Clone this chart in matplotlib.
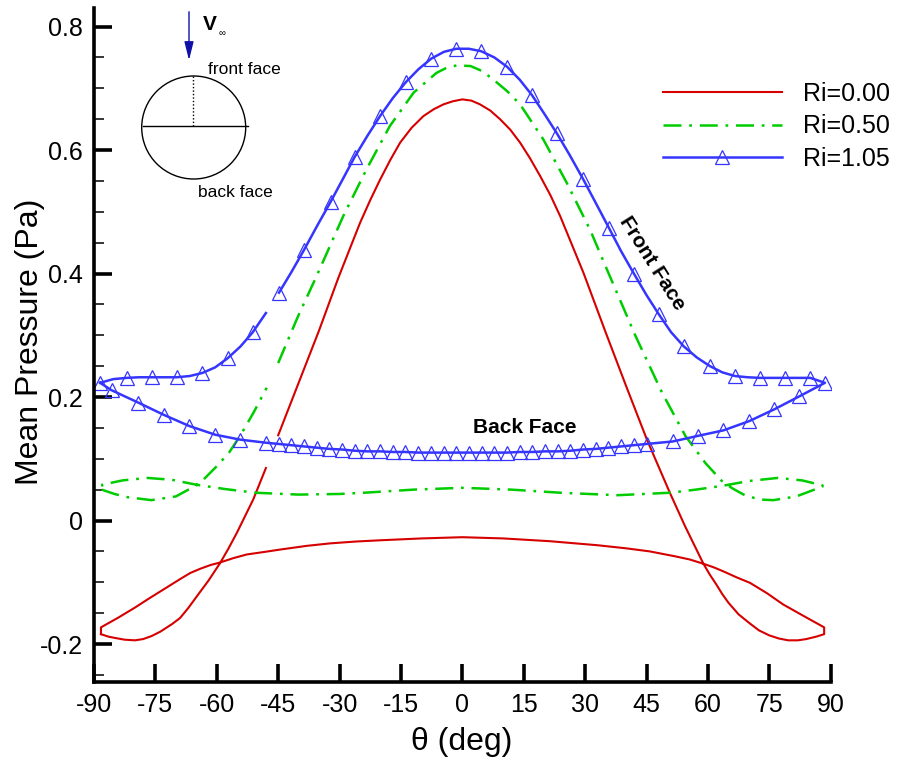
import numpy as np
import matplotlib.pyplot as plt
from matplotlib.lines import Line2D
from matplotlib.patches import Ellipse

plt.rcParams['font.family'] = ['Liberation Sans', 'DejaVu Sans']
plt.rcParams['axes.unicode_minus'] = False

# Ri = 0.00
red_front_theta = [-88.3, -86.5, -85.0, -82.5, -80.0, -78.0, -75.9, -73.8, -71.0, -69.0, -67.0, -64.9,
                   -62.0, -59.2, -57.2, -55.1, -51.1, -48.0, -45.0, -40.0, -35.0, -30.3, -25.0,
                   -22.5, -20.1, -17.6, -15.2, -12.4, -9.5, -7.0, -4.6, -2.3, 0.0, 2.2, 4.3, 6.8,
                   9.2, 11.7, 14.1, 16.5, 19.0, 21.5, 23.9, 29.6, 35.0, 40.0, 45.1, 50.7, 54.4, 58.9,
                   60.5, 62.0, 63.5, 65.0, 67.5, 70.3, 72.5, 75.0, 77.3, 79.6, 82.0, 84.0, 86.5, 88.4]
red_front_p = [-0.184, -0.188, -0.190, -0.193, -0.194, -0.192, -0.187, -0.180, -0.168, -0.158,
               -0.142, -0.123, -0.097, -0.069, -0.046, -0.020, 0.034, 0.085, 0.138, 0.223, 0.308,
               0.393, 0.482, 0.519, 0.552, 0.584, 0.612, 0.636, 0.655, 0.666, 0.674, 0.679, 0.682,
               0.680, 0.674, 0.664, 0.650, 0.633, 0.612, 0.587, 0.558, 0.527, 0.493, 0.401, 0.305,
               0.218, 0.131, 0.045, -0.009, -0.070, -0.088, -0.103, -0.119, -0.133, -0.152, -0.167,
               -0.178, -0.186, -0.191, -0.194, -0.194, -0.192, -0.188, -0.184]
red_back_theta = [-88.3, -84.0, -80.0, -76.5, -73.1, -69.0, -66.5, -64.0, -61.5, -59.2, -56.0, -52.7,
                  -48.5, -44.5, -38.0, -32.3, -26.0, -20.1, -10.0, 0.0, 10.0, 21.4, 33.0, 40.0, 45.8,
                  52.0, 55.5, 58.9, 61.5, 64.0, 67.0, 70.3, 74.5, 78.4, 83.5, 88.4]
red_back_p = [-0.173, -0.157, -0.141, -0.126, -0.112, -0.095, -0.085, -0.078, -0.072, -0.068, -0.061,
              -0.055, -0.051, -0.047, -0.041, -0.037, -0.034, -0.032, -0.029, -0.027, -0.029,
              -0.0335, -0.040, -0.045, -0.050, -0.058, -0.063, -0.070, -0.076, -0.083, -0.092,
              -0.101, -0.118, -0.136, -0.155, -0.173]

# Ri = 0.50
green_front_theta = [-88.1, -85.0, -82.0, -76.0, -70.0, -65.0, -63.3, -60.0, -57.0, -54.3, -51.0,
                     -47.8, -45.0, -40.0, -35.6, -29.1, -23.4, -17.7, -11.9, -6.3, -3.9, -1.4, 2.0,
                     4.8, 7.6, 11.0, 14.1, 19.8, 25.5, 31.2, 35.3, 42.3, 48.8, 54.5, 59.4, 63.4, 66.0,
                     69.0, 72.6, 76.0, 81.6, 88.0]
green_front_p = [0.050, 0.043, 0.038, 0.033, 0.039, 0.057, 0.066, 0.088, 0.110, 0.137, 0.175, 0.215,
                 0.255, 0.333, 0.396, 0.493, 0.569, 0.639, 0.693, 0.725, 0.733, 0.737, 0.736, 0.728,
                 0.714, 0.695, 0.674, 0.617, 0.547, 0.471, 0.407, 0.299, 0.207, 0.137, 0.093, 0.064,
                 0.052, 0.041, 0.034, 0.033, 0.039, 0.055]
green_back_theta = [-88.0, -83.0, -77.0, -71.0, -65.0, -58.0, -50.6, -40.0, -30.0, -24.0, -12.0, 0.0,
                    12.0, 24.0, 37.9, 50.8, 57.0, 63.4, 70.0, 77.1, 83.0, 88.0]
green_back_p = [0.058, 0.065, 0.069, 0.066, 0.058, 0.051, 0.045, 0.042, 0.043, 0.045, 0.050, 0.053,
                0.050, 0.045, 0.041, 0.045, 0.050, 0.056, 0.064, 0.069, 0.065, 0.057]

# Ri = 1.05 (symbols on every second front point, every back point)
blue_front_theta = [-88.5, -85.3, -82.0, -79.0, -75.9, -72.8, -69.8, -66.6, -63.5, -60.4, -57.3, -54.2,
                    -51.2, -48.0, -44.8, -41.8, -38.7, -35.5, -32.2, -29.2, -26.3, -23.2, -20.1, -17.0,
                    -13.8, -10.7, -7.6, -4.5, -1.5, 1.6, 4.6, 7.8, 10.9, 14.0, 17.0, 20.0, 23.1, 26.3,
                    29.5, 32.7, 35.8, 38.8, 41.9, 45.0, 48.0, 51.0, 54.1, 57.3, 60.5, 63.5, 66.6, 69.7,
                    72.7, 75.8, 78.9, 82.0, 85.0, 88.6]
blue_front_p = [0.223, 0.229, 0.231, 0.232, 0.232, 0.232, 0.232, 0.234, 0.239, 0.248, 0.263, 0.282,
                0.305, 0.336, 0.369, 0.402, 0.438, 0.477, 0.516, 0.553, 0.589, 0.623, 0.655, 0.684,
                0.710, 0.731, 0.748, 0.759, 0.764, 0.764, 0.760, 0.750, 0.735, 0.714, 0.689, 0.659,
                0.627, 0.591, 0.553, 0.513, 0.474, 0.436, 0.400, 0.365, 0.334, 0.305, 0.282, 0.264,
                0.250, 0.240, 0.234, 0.232, 0.231, 0.231, 0.231, 0.231, 0.231, 0.223]
blue_back_theta = [-85.7, -79.2, -72.9, -66.7, -60.4, -54.3, -48.0, -44.9, -41.8, -38.7, -35.6, -32.5,
                   -29.4, -26.3, -23.2, -20.1, -17.0, -13.9, -10.8, -7.7, -4.6, -1.5, 1.6, 4.7, 7.8,
                   10.9, 14.0, 17.1, 20.2, 23.3, 26.4, 29.5, 32.6, 35.7, 38.8, 41.9, 45.0, 51.4, 57.5,
                   63.8, 70.1, 76.2, 82.3]
blue_back_p = [0.211, 0.191, 0.171, 0.153, 0.139, 0.131, 0.126, 0.124, 0.122, 0.120, 0.118, 0.116,
               0.115, 0.113, 0.112, 0.112, 0.111, 0.111, 0.110, 0.110, 0.110, 0.110, 0.110, 0.110,
               0.110, 0.110, 0.111, 0.111, 0.112, 0.112, 0.113, 0.115, 0.116, 0.118, 0.120, 0.122,
               0.124, 0.128, 0.137, 0.146, 0.161, 0.180, 0.201]

labels = ['Ri=0.00', 'Ri=0.50', 'Ri=1.05']
red, green, blue = '#d60000', '#00cc00', '#3535ff'


def loop(ft, fp, bt, bp, gap=-46.5):
    # front face (with its small break), then back face, closed at the ends
    t, p = list(ft), list(fp)
    for i in range(len(t) - 1):
        if t[i] < gap < t[i + 1]:
            t.insert(i + 1, np.nan)
            p.insert(i + 1, np.nan)
            break
    t += bt[::-1] + [ft[0]]
    p += bp[::-1] + [fp[0]]
    return t, p


W, H = 898, 766
fig = plt.figure(figsize=(W / 100, H / 100), dpi=100)
ax = fig.add_axes([94 / W, 1 - 682 / H, 736.7 / W, 674 / H])

dashdot = (0, (7.2, 3.1, 1.1, 3.1))
t, p = loop(red_front_theta, red_front_p, red_back_theta, red_back_p)
ax.plot(t, p, color=red, lw=1.5)
t, p = loop(green_front_theta, green_front_p, green_back_theta, green_back_p)
ax.plot(t, p, color=green, lw=1.8, ls=dashdot)
t, p = loop(blue_front_theta, blue_front_p, blue_back_theta, blue_back_p)
ax.plot(t, p, color=blue, lw=1.8)

mk = list(range(0, len(blue_front_theta) - 1, 2)) + [len(blue_front_theta) - 1]
mt = [blue_front_theta[i] for i in mk] + blue_back_theta
mp = [blue_front_p[i] for i in mk] + blue_back_p
ax.plot(mt, mp, ls='none', marker='^', ms=9.5, mfc='none', mec=blue, mew=0.9)

ax.set_xlim(-90, 90)
ax.set_ylim(-0.2615, 0.830)
ax.set_xticks(range(-90, 91, 15))
ax.set_yticks([-0.2, 0, 0.2, 0.4, 0.6, 0.8])
ax.set_yticklabels(['-0.2', '0', '0.2', '0.4', '0.6', '0.8'])
ax.set_yticks(np.arange(-0.25, 0.81, 0.05), minor=True)
for s in ['top', 'right']:
    ax.spines[s].set_visible(False)
for s in ['left', 'bottom']:
    ax.spines[s].set_linewidth(2.6)
ax.tick_params(which='major', direction='in', length=13, width=2.6, labelsize=18, pad=8)
ax.tick_params(which='minor', direction='in', length=7, width=1.1)

fig.text(462 / W, 1 - 742 / H, 'θ (deg)', fontsize=23, ha='center', va='center')
fig.text(30 / W, 1 - 342 / H, 'Mean Pressure (Pa)', fontsize=23, ha='center', va='center',
         rotation=90)

handles = [Line2D([], [], color=red, lw=1.5),
           Line2D([], [], color=green, lw=1.8, ls=dashdot),
           Line2D([], [], color=blue, lw=1.8, marker='^', ms=9.5, mfc='none', mec=blue, mew=0.9)]
ax.legend(handles, labels, loc='upper left', bbox_to_anchor=(663 / W, 1 - 82 / H),
          bbox_transform=fig.transFigure, frameon=False, fontsize=18, handlelength=4.75,
          handletextpad=0.85, labelspacing=0.33, borderpad=0, borderaxespad=0)

ax.text(15.2, 0.150, 'Back Face', fontsize=15, fontweight='bold', ha='center', va='center')
ax.text(46.4, 0.416, 'Front Face', fontsize=15, fontweight='bold', ha='center', va='center',
        rotation=-57.8, rotation_mode='anchor')

# sketch of the cylinder in the upper left corner
ax.annotate('', xy=(189, H - 63), xytext=(189, H - 9), xycoords='figure pixels',
            arrowprops=dict(arrowstyle='-|>,head_length=0.8,head_width=0.2', color='#1010a8',
                            lw=1, mutation_scale=14))
fig.text(203 / W, 1 - 25 / H, 'V', fontsize=15, fontweight='bold', va='center')
fig.text(219 / W, 1 - 33 / H, '∞', fontsize=7, va='center')
fig.add_artist(Ellipse((193.7 / W, 1 - 127.5 / H), 104 / W, 103 / H, transform=fig.transFigure,
                       fill=False, lw=1, color='black'))
fig.add_artist(Line2D([143 / W, 248 / W], [1 - 126 / H] * 2, transform=fig.transFigure,
                      color='black', lw=1))
fig.add_artist(Line2D([192.5 / W] * 2, [1 - 126 / H, 1 - 76 / H], transform=fig.transFigure,
                      color='black', lw=1, ls=(0, (1, 1.5))))
fig.text(208 / W, 1 - 74 / H, 'front face', fontsize=12.5, va='baseline')
fig.text(198 / W, 1 - 197 / H, 'back face', fontsize=12.5, va='baseline')

fig.savefig('out.png', dpi=100)
